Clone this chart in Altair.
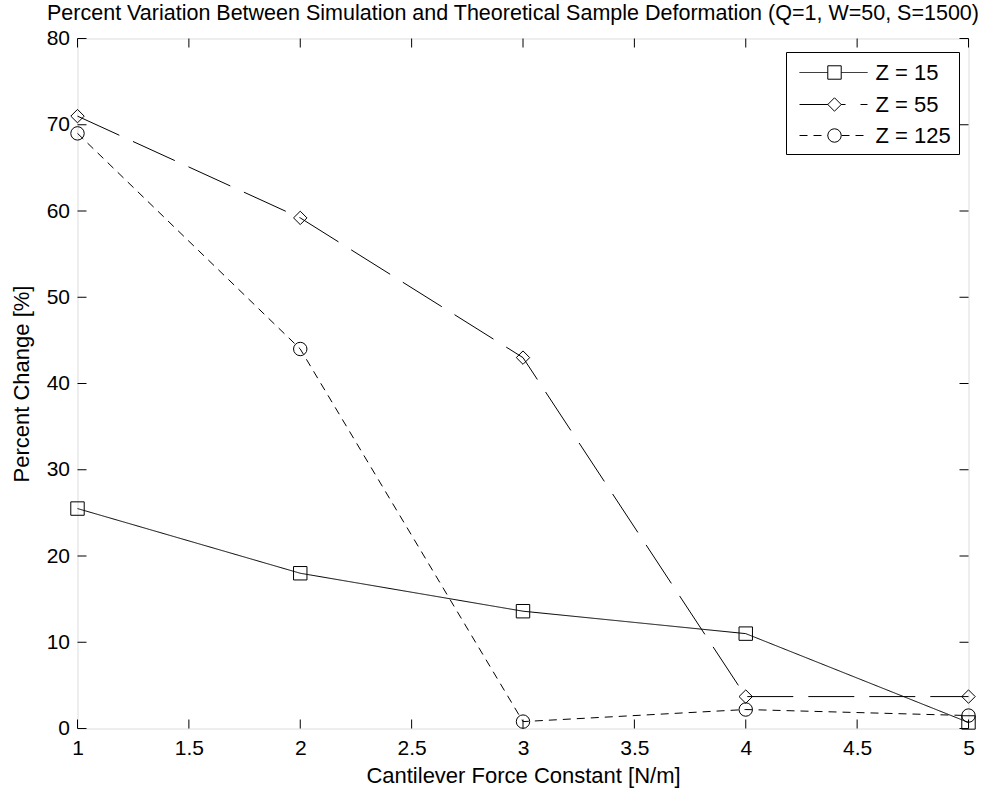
import altair as alt
import pandas as pd

# ---- data ----
x_vals = [1, 2, 3, 4, 5]
z15 = [25.5, 18.0, 13.6, 11.0, 0.7]
z55 = [71.0, 59.2, 43.0, 3.7, 3.7]
z125 = [69.0, 44.0, 0.8, 2.2, 1.5]
series_names = ["Z = 15", "Z = 55", "Z = 125"]
x_ticks = [1, 1.5, 2, 2.5, 3, 3.5, 4, 4.5, 5]
y_ticks = [0, 10, 20, 30, 40, 50, 60, 70, 80]

FONT = "Liberation Sans"
W, H = 891, 690
TICK = 9
LBL = 21
TTL = 22

xs = alt.Scale(domain=[1, 5], nice=False, zero=False)
ys = alt.Scale(domain=[0, 80], nice=False, zero=True)

x_axis = alt.Axis(values=x_ticks, format="~g", grid=False, ticks=False, tickSize=0,
                  domain=False, labelFont=FONT, labelFontSize=LBL, labelColor="black",
                  labelPadding=9, labelFlush=False, title="Cantilever Force Constant [N/m]",
                  titleFont=FONT, titleFontSize=TTL, titleFontWeight="normal",
                  titleColor="black", titlePadding=7)
y_axis = alt.Axis(values=y_ticks, format="d", grid=False, ticks=False, tickSize=0,
                  domain=False, labelFont=FONT, labelFontSize=LBL, labelColor="black",
                  labelPadding=8, title="Percent Change [%]",
                  titleFont=FONT, titleFontSize=TTL, titleFontWeight="normal",
                  titleColor="black", titlePadding=13)

X = alt.X("x:Q", scale=xs, axis=x_axis)
Y = alt.Y("y:Q", scale=ys, axis=y_axis)

styles = [
    {"shape": "square", "dash": [1, 0]},
    {"shape": "diamond", "dash": [46, 15]},
    {"shape": "circle", "dash": [8, 6]},
]
series_vals = [z15, z55, z125]

layers = []
for i, (name, vals) in enumerate(zip(series_names, series_vals)):
    df = pd.DataFrame({"x": x_vals, "y": vals})
    base = alt.Chart(df).encode(x=X, y=Y)
    layers.append(base.mark_line(color="black", strokeWidth=1,
                                 strokeDash=styles[i]["dash"]))
    layers.append(base.mark_point(shape=styles[i]["shape"], size=180, filled=False,
                                  color="black", strokeWidth=1, opacity=1))

# inward ticks on all four sides (MATLAB box style)
xt = pd.DataFrame({"x": x_ticks})
yt = pd.DataFrame({"y": y_ticks})
tick_kw = dict(color="black", strokeWidth=1)
layers.append(alt.Chart(xt).mark_rule(**tick_kw).encode(
    x=X, y=alt.value(H), y2=alt.value(H - TICK)))
layers.append(alt.Chart(xt).mark_rule(**tick_kw).encode(
    x=X, y=alt.value(0), y2=alt.value(TICK)))
layers.append(alt.Chart(yt).mark_rule(**tick_kw).encode(
    y=Y, x=alt.value(0), x2=alt.value(TICK)))
layers.append(alt.Chart(yt).mark_rule(**tick_kw).encode(
    y=Y, x=alt.value(W), x2=alt.value(W - TICK)))

# custom legend box
leg_df = pd.DataFrame({"label": ["legend"]})
layers.append(alt.Chart(leg_df).mark_rect(fill="white", stroke="black", strokeWidth=1).encode(
    x=alt.value(709), x2=alt.value(882), y=alt.value(14), y2=alt.value(116)))
row_y = [34, 66, 97]
for i, name in enumerate(series_names):
    ldf = pd.DataFrame({"label": [name]})
    layers.append(alt.Chart(ldf).mark_rule(color="black", strokeWidth=1,
                                           strokeDash=styles[i]["dash"]).encode(
        x=alt.value(722), x2=alt.value(790), y=alt.value(row_y[i])))
    layers.append(alt.Chart(ldf).mark_point(shape=styles[i]["shape"], size=180, filled=True,
                                            fill="white", stroke="black", strokeWidth=1,
                                            opacity=1).encode(
        x=alt.value(757), y=alt.value(row_y[i])))
    layers.append(alt.Chart(ldf).mark_text(align="left", baseline="middle", font=FONT,
                                           fontSize=TTL, color="black").encode(
        x=alt.value(798), y=alt.value(row_y[i]), text=alt.Text("label:N")))

chart = alt.layer(*layers).properties(
    width=W, height=H,
    autosize=alt.AutoSizeParams(type="none"),
    padding={"left": 77.5, "top": 38.5, "right": 39.5, "bottom": 61.5},
    title=alt.TitleParams(
        text="Percent Variation Between Simulation and Theoretical Sample Deformation (Q=1, W=50, S=1500)",
        font=FONT, fontSize=21.5, fontWeight="normal", color="black",
        anchor="middle", dx=-10, offset=3),
).configure_view(stroke="black", strokeWidth=1).configure(background="white")

chart.save("out.html", embed_options={"renderer": "svg", "actions": False})
